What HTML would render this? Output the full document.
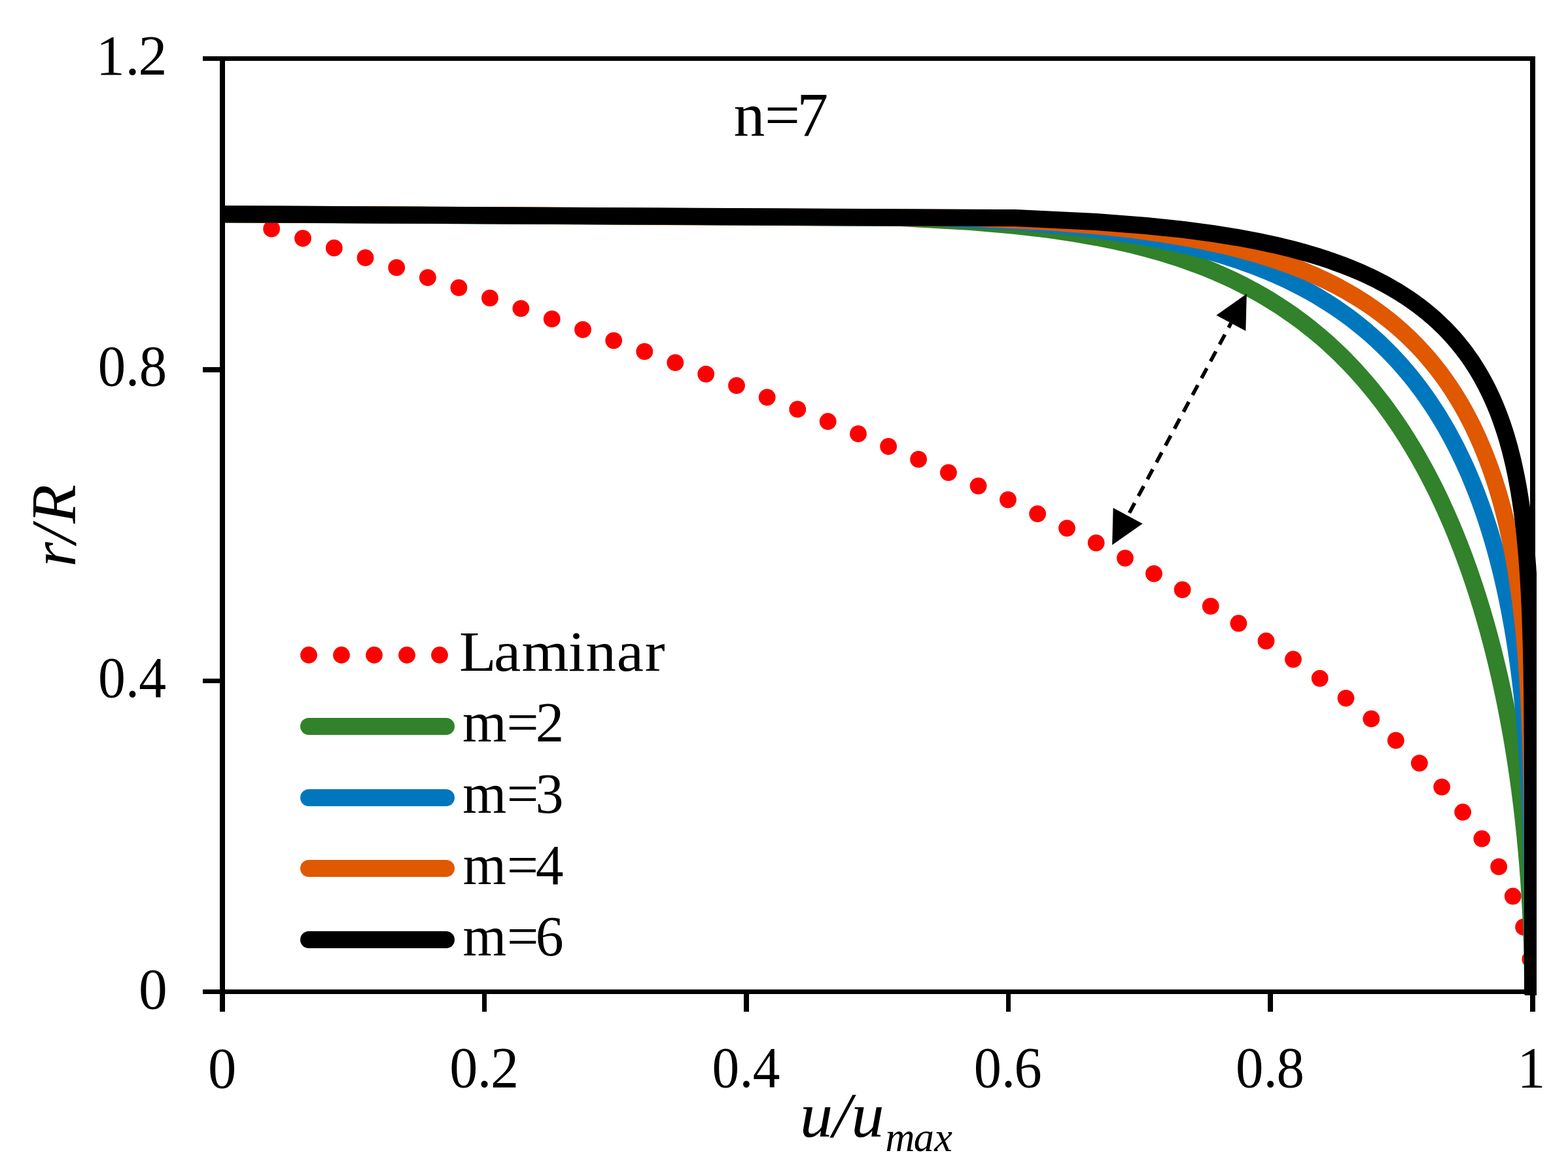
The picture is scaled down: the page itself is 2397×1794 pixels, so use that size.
<!DOCTYPE html>
<html><head><meta charset="utf-8"><title>Velocity profiles</title>
<style>
html,body{margin:0;padding:0;background:#fff;}
body{width:2397px;height:1794px;overflow:hidden;}
svg{display:block;}
text{font-family:"Liberation Serif",serif;fill:#000;font-kerning:none;}
.it{font-style:italic;}
</style></head>
<body>
<svg width="2397" height="1794" viewBox="0 0 2397 1794">
<rect width="2397" height="1794" fill="#fff"/>
<defs><clipPath id="plot"><rect x="336" y="84" width="2013" height="1437"/></clipPath></defs>
<g clip-path="url(#plot)">
<path d="M2343 1515.5 L2342.8 1503.62 L2342.2 1491.73 L2341.2 1479.85 L2339.8 1467.97 L2337.99 1456.08 L2335.79 1444.2 L2333.19 1432.32 L2330.18 1420.43 L2326.78 1408.55 L2322.97 1396.67 L2318.76 1384.78 L2314.16 1372.9 L2309.15 1361.02 L2303.74 1349.13 L2297.93 1337.25 L2291.72 1325.37 L2285.11 1313.48 L2278.1 1301.6 L2270.69 1289.72 L2262.88 1277.83 L2254.67 1265.95 L2246.05 1254.07 L2237.04 1242.18 L2227.63 1230.3 L2217.81 1218.42 L2207.6 1206.53 L2196.98 1194.65 L2185.96 1182.77 L2174.55 1170.88 L2162.73 1159 L2150.51 1147.12 L2137.89 1135.23 L2124.87 1123.35 L2111.45 1111.47 L2097.63 1099.58 L2083.41 1087.7 L2068.79 1075.82 L2053.77 1063.93 L2038.34 1052.05 L2022.52 1040.17 L2006.3 1028.28 L1989.67 1016.4 L1972.65 1004.52 L1955.22 992.63 L1937.39 980.75 L1919.17 968.87 L1900.54 956.98 L1881.51 945.1 L1862.08 933.22 L1842.25 921.34 L1822.02 909.45 L1801.39 897.57 L1780.36 885.69 L1758.93 873.8 L1737.09 861.92 L1714.86 850.04 L1692.23 838.15 L1669.19 826.27 L1645.76 814.39 L1621.92 802.5 L1597.68 790.62 L1573.05 778.74 L1548.01 766.85 L1522.57 754.97 L1496.73 743.09 L1470.49 731.2 L1443.85 719.32 L1416.81 707.44 L1389.37 695.55 L1361.53 683.67 L1333.29 671.79 L1304.64 659.9 L1275.6 648.02 L1246.16 636.14 L1216.31 624.25 L1186.07 612.37 L1155.42 600.49 L1124.37 588.6 L1092.93 576.72 L1061.08 564.84 L1028.83 552.95 L996.18 541.07 L963.13 529.19 L929.68 517.3 L895.83 505.42 L861.58 493.54 L826.93 481.65 L791.88 469.77 L756.42 457.89 L720.57 446 L684.32 434.12 L647.66 422.24 L610.61 410.35 L573.15 398.47 L535.29 386.59 L497.04 374.7 L458.38 362.82 L419.32 350.94 L379.86 339.05" stroke="#ff0000" stroke-width="25.8" stroke-linecap="round" stroke-linejoin="round" stroke-dasharray="0 50.02" fill="none"/>
<path d="M2343 1515.5 L2342.99 1509.56 L2342.97 1503.62 L2342.94 1497.68 L2342.89 1491.73 L2342.82 1485.79 L2342.74 1479.85 L2342.65 1473.91 L2342.54 1467.97 L2342.42 1462.03 L2342.28 1456.08 L2342.13 1450.14 L2341.97 1444.2 L2341.79 1438.26 L2341.59 1432.32 L2341.39 1426.38 L2341.16 1420.43 L2340.93 1414.49 L2340.67 1408.55 L2340.41 1402.61 L2340.13 1396.67 L2339.83 1390.73 L2339.52 1384.78 L2339.19 1378.84 L2338.85 1372.9 L2338.5 1366.96 L2338.13 1361.02 L2337.74 1355.08 L2337.34 1349.13 L2336.93 1343.19 L2336.5 1337.25 L2336.05 1331.31 L2335.59 1325.37 L2335.12 1319.43 L2334.63 1313.48 L2334.12 1307.54 L2333.6 1301.6 L2333.06 1295.66 L2332.51 1289.72 L2331.94 1283.78 L2331.35 1277.83 L2330.75 1271.89 L2330.14 1265.95 L2329.5 1260.01 L2328.85 1254.07 L2328.19 1248.13 L2327.51 1242.18 L2326.81 1236.24 L2326.1 1230.3 L2325.37 1224.36 L2324.62 1218.42 L2323.85 1212.48 L2323.07 1206.53 L2322.27 1200.59 L2321.46 1194.65 L2320.62 1188.71 L2319.77 1182.77 L2318.91 1176.83 L2318.02 1170.88 L2317.12 1164.94 L2316.19 1159 L2315.25 1153.06 L2314.3 1147.12 L2313.32 1141.18 L2312.33 1135.23 L2311.31 1129.29 L2310.28 1123.35 L2309.23 1117.41 L2308.16 1111.47 L2307.06 1105.53 L2305.95 1099.58 L2304.82 1093.64 L2303.67 1087.7 L2302.5 1081.76 L2301.31 1075.82 L2300.1 1069.88 L2298.87 1063.93 L2297.62 1057.99 L2296.34 1052.05 L2295.04 1046.11 L2293.73 1040.17 L2292.39 1034.23 L2291.02 1028.28 L2289.64 1022.34 L2288.23 1016.4 L2286.8 1010.46 L2285.35 1004.52 L2283.87 998.58 L2282.37 992.63 L2280.84 986.69 L2279.29 980.75 L2277.71 974.81 L2276.11 968.87 L2274.49 962.93 L2272.83 956.98 L2271.15 951.04 L2269.45 945.1 L2267.72 939.16 L2265.96 933.22 L2264.17 927.28 L2262.35 921.34 L2260.51 915.39 L2258.63 909.45 L2256.73 903.51 L2254.79 897.57 L2252.83 891.63 L2250.83 885.69 L2248.8 879.74 L2246.74 873.8 L2244.65 867.86 L2242.52 861.92 L2240.36 855.98 L2238.17 850.04 L2235.94 844.09 L2233.67 838.15 L2231.37 832.21 L2229.03 826.27 L2226.65 820.33 L2224.24 814.39 L2221.78 808.44 L2219.28 802.5 L2216.75 796.56 L2214.17 790.62 L2211.54 784.68 L2208.88 778.74 L2206.17 772.79 L2203.41 766.85 L2200.6 760.91 L2197.75 754.97 L2194.85 749.03 L2191.9 743.09 L2188.89 737.14 L2185.84 731.2 L2182.73 725.26 L2179.56 719.32 L2176.34 713.38 L2173.05 707.44 L2169.71 701.49 L2166.31 695.55 L2162.84 689.61 L2159.3 683.67 L2155.7 677.73 L2152.03 671.79 L2148.29 665.84 L2144.47 659.9 L2140.58 653.96 L2136.61 648.02 L2132.56 642.08 L2128.42 636.14 L2124.2 630.19 L2119.89 624.25 L2115.48 618.31 L2110.98 612.37 L2106.37 606.43 L2101.67 600.49 L2096.85 594.54 L2091.93 588.6 L2086.88 582.66 L2081.71 576.72 L2076.42 570.78 L2070.99 564.84 L2065.43 558.89 L2059.72 552.95 L2053.85 547.01 L2047.83 541.07 L2041.64 535.13 L2035.27 529.19 L2028.71 523.24 L2021.96 517.3 L2015 511.36 L2007.81 505.42 L2000.39 499.48 L1992.73 493.54 L1984.79 487.59 L1976.58 481.65 L1968.05 475.71 L1959.2 469.77 L1950 463.83 L1940.41 457.89 L1930.41 451.94 L1919.96 446 L1909.01 440.06 L1897.52 434.12 L1885.43 428.18 L1872.68 422.24 L1859.18 416.29 L1844.83 410.35 L1829.54 404.41 L1813.15 398.47 L1795.48 392.53 L1776.33 386.59 L1755.39 380.64 L1732.28 374.7 L1706.47 368.76 L1677.19 362.82 L1643.28 356.88 L1602.85 350.94 L1552.44 344.99 L1484.62 339.05 L1377.08 333.11 L340 327.17" stroke="#31822a" stroke-width="26" stroke-linecap="round" stroke-linejoin="round" fill="none"/>
<path d="M2343 1515.5 L2343 1509.56 L2343 1503.62 L2343 1497.68 L2343 1491.73 L2343 1485.79 L2342.99 1479.85 L2342.99 1473.91 L2342.98 1467.97 L2342.97 1462.03 L2342.96 1456.08 L2342.95 1450.14 L2342.94 1444.2 L2342.92 1438.26 L2342.9 1432.32 L2342.88 1426.38 L2342.85 1420.43 L2342.82 1414.49 L2342.79 1408.55 L2342.75 1402.61 L2342.71 1396.67 L2342.67 1390.73 L2342.62 1384.78 L2342.56 1378.84 L2342.51 1372.9 L2342.44 1366.96 L2342.37 1361.02 L2342.3 1355.08 L2342.21 1349.13 L2342.13 1343.19 L2342.03 1337.25 L2341.93 1331.31 L2341.83 1325.37 L2341.71 1319.43 L2341.59 1313.48 L2341.46 1307.54 L2341.33 1301.6 L2341.18 1295.66 L2341.03 1289.72 L2340.87 1283.78 L2340.7 1277.83 L2340.53 1271.89 L2340.34 1265.95 L2340.14 1260.01 L2339.94 1254.07 L2339.72 1248.13 L2339.5 1242.18 L2339.27 1236.24 L2339.02 1230.3 L2338.77 1224.36 L2338.5 1218.42 L2338.22 1212.48 L2337.93 1206.53 L2337.63 1200.59 L2337.32 1194.65 L2337 1188.71 L2336.66 1182.77 L2336.31 1176.83 L2335.95 1170.88 L2335.57 1164.94 L2335.18 1159 L2334.78 1153.06 L2334.36 1147.12 L2333.93 1141.18 L2333.49 1135.23 L2333.03 1129.29 L2332.55 1123.35 L2332.06 1117.41 L2331.56 1111.47 L2331.04 1105.53 L2330.5 1099.58 L2329.95 1093.64 L2329.37 1087.7 L2328.79 1081.76 L2328.18 1075.82 L2327.56 1069.88 L2326.92 1063.93 L2326.26 1057.99 L2325.58 1052.05 L2324.88 1046.11 L2324.16 1040.17 L2323.43 1034.23 L2322.67 1028.28 L2321.89 1022.34 L2321.09 1016.4 L2320.28 1010.46 L2319.43 1004.52 L2318.57 998.58 L2317.69 992.63 L2316.78 986.69 L2315.85 980.75 L2314.89 974.81 L2313.91 968.87 L2312.91 962.93 L2311.88 956.98 L2310.82 951.04 L2309.74 945.1 L2308.64 939.16 L2307.5 933.22 L2306.34 927.28 L2305.15 921.34 L2303.94 915.39 L2302.69 909.45 L2301.41 903.51 L2300.11 897.57 L2298.77 891.63 L2297.4 885.69 L2296 879.74 L2294.57 873.8 L2293.1 867.86 L2291.6 861.92 L2290.07 855.98 L2288.5 850.04 L2286.89 844.09 L2285.25 838.15 L2283.56 832.21 L2281.85 826.27 L2280.09 820.33 L2278.29 814.39 L2276.45 808.44 L2274.56 802.5 L2272.64 796.56 L2270.67 790.62 L2268.66 784.68 L2266.6 778.74 L2264.49 772.79 L2262.33 766.85 L2260.13 760.91 L2257.87 754.97 L2255.57 749.03 L2253.2 743.09 L2250.79 737.14 L2248.32 731.2 L2245.79 725.26 L2243.2 719.32 L2240.55 713.38 L2237.84 707.44 L2235.06 701.49 L2232.22 695.55 L2229.31 689.61 L2226.34 683.67 L2223.28 677.73 L2220.16 671.79 L2216.96 665.84 L2213.68 659.9 L2210.31 653.96 L2206.87 648.02 L2203.34 642.08 L2199.71 636.14 L2196 630.19 L2192.18 624.25 L2188.27 618.31 L2184.26 612.37 L2180.13 606.43 L2175.9 600.49 L2171.55 594.54 L2167.08 588.6 L2162.48 582.66 L2157.75 576.72 L2152.89 570.78 L2147.88 564.84 L2142.72 558.89 L2137.41 552.95 L2131.93 547.01 L2126.29 541.07 L2120.46 535.13 L2114.44 529.19 L2108.22 523.24 L2101.79 517.3 L2095.13 511.36 L2088.24 505.42 L2081.1 499.48 L2073.69 493.54 L2066 487.59 L2058 481.65 L2049.67 475.71 L2040.99 469.77 L2031.94 463.83 L2022.47 457.89 L2012.56 451.94 L2002.17 446 L1991.26 440.06 L1979.76 434.12 L1967.62 428.18 L1954.77 422.24 L1941.12 416.29 L1926.58 410.35 L1911.02 404.41 L1894.29 398.47 L1876.21 392.53 L1856.53 386.59 L1834.96 380.64 L1811.08 374.7 L1784.33 368.76 L1753.89 362.82 L1718.54 356.88 L1676.25 350.94 L1623.36 344.99 L1552.01 339.05 L1438.53 333.11 L340 327.17" stroke="#0077bd" stroke-width="26" stroke-linecap="round" stroke-linejoin="round" fill="none"/>
<path d="M2343 1515.5 L2343 1509.56 L2343 1503.62 L2343 1497.68 L2343 1491.73 L2343 1485.79 L2343 1479.85 L2343 1473.91 L2343 1467.97 L2343 1462.03 L2343 1456.08 L2343 1450.14 L2343 1444.2 L2342.99 1438.26 L2342.99 1432.32 L2342.99 1426.38 L2342.99 1420.43 L2342.99 1414.49 L2342.98 1408.55 L2342.98 1402.61 L2342.97 1396.67 L2342.97 1390.73 L2342.96 1384.78 L2342.95 1378.84 L2342.94 1372.9 L2342.93 1366.96 L2342.92 1361.02 L2342.9 1355.08 L2342.89 1349.13 L2342.87 1343.19 L2342.86 1337.25 L2342.83 1331.31 L2342.81 1325.37 L2342.79 1319.43 L2342.76 1313.48 L2342.73 1307.54 L2342.7 1301.6 L2342.66 1295.66 L2342.63 1289.72 L2342.59 1283.78 L2342.54 1277.83 L2342.49 1271.89 L2342.44 1265.95 L2342.39 1260.01 L2342.33 1254.07 L2342.27 1248.13 L2342.2 1242.18 L2342.13 1236.24 L2342.05 1230.3 L2341.97 1224.36 L2341.88 1218.42 L2341.79 1212.48 L2341.69 1206.53 L2341.59 1200.59 L2341.48 1194.65 L2341.36 1188.71 L2341.24 1182.77 L2341.11 1176.83 L2340.97 1170.88 L2340.83 1164.94 L2340.67 1159 L2340.51 1153.06 L2340.35 1147.12 L2340.17 1141.18 L2339.99 1135.23 L2339.79 1129.29 L2339.59 1123.35 L2339.38 1117.41 L2339.15 1111.47 L2338.92 1105.53 L2338.68 1099.58 L2338.42 1093.64 L2338.16 1087.7 L2337.88 1081.76 L2337.59 1075.82 L2337.29 1069.88 L2336.98 1063.93 L2336.65 1057.99 L2336.31 1052.05 L2335.96 1046.11 L2335.59 1040.17 L2335.21 1034.23 L2334.81 1028.28 L2334.4 1022.34 L2333.98 1016.4 L2333.53 1010.46 L2333.07 1004.52 L2332.59 998.58 L2332.1 992.63 L2331.59 986.69 L2331.05 980.75 L2330.5 974.81 L2329.94 968.87 L2329.35 962.93 L2328.74 956.98 L2328.11 951.04 L2327.45 945.1 L2326.78 939.16 L2326.08 933.22 L2325.36 927.28 L2324.62 921.34 L2323.85 915.39 L2323.06 909.45 L2322.24 903.51 L2321.39 897.57 L2320.52 891.63 L2319.62 885.69 L2318.69 879.74 L2317.73 873.8 L2316.75 867.86 L2315.73 861.92 L2314.68 855.98 L2313.6 850.04 L2312.48 844.09 L2311.33 838.15 L2310.15 832.21 L2308.93 826.27 L2307.67 820.33 L2306.38 814.39 L2305.05 808.44 L2303.67 802.5 L2302.26 796.56 L2300.81 790.62 L2299.31 784.68 L2297.77 778.74 L2296.18 772.79 L2294.55 766.85 L2292.86 760.91 L2291.13 754.97 L2289.35 749.03 L2287.52 743.09 L2285.63 737.14 L2283.69 731.2 L2281.69 725.26 L2279.63 719.32 L2277.51 713.38 L2275.33 707.44 L2273.09 701.49 L2270.78 695.55 L2268.4 689.61 L2265.96 683.67 L2263.43 677.73 L2260.84 671.79 L2258.17 665.84 L2255.41 659.9 L2252.58 653.96 L2249.66 648.02 L2246.65 642.08 L2243.55 636.14 L2240.35 630.19 L2237.06 624.25 L2233.66 618.31 L2230.16 612.37 L2226.54 606.43 L2222.82 600.49 L2218.97 594.54 L2215 588.6 L2210.89 582.66 L2206.66 576.72 L2202.28 570.78 L2197.75 564.84 L2193.07 558.89 L2188.23 552.95 L2183.21 547.01 L2178.02 541.07 L2172.64 535.13 L2167.06 529.19 L2161.27 523.24 L2155.27 517.3 L2149.02 511.36 L2142.54 505.42 L2135.79 499.48 L2128.76 493.54 L2121.43 487.59 L2113.78 481.65 L2105.79 475.71 L2097.44 469.77 L2088.69 463.83 L2079.51 457.89 L2069.86 451.94 L2059.72 446 L2049.02 440.06 L2037.71 434.12 L2025.73 428.18 L2013.01 422.24 L1999.45 416.29 L1984.95 410.35 L1969.39 404.41 L1952.61 398.47 L1934.41 392.53 L1914.55 386.59 L1892.7 380.64 L1868.44 374.7 L1841.18 368.76 L1810.07 362.82 L1773.81 356.88 L1730.32 350.94 L1675.78 344.99 L1601.95 339.05 L1484.21 333.11 L340 327.17" stroke="#e05800" stroke-width="26" stroke-linecap="round" stroke-linejoin="round" fill="none"/>
<path d="M2343 1515.5 L2343 1509.56 L2343 1503.62 L2343 1497.68 L2343 1491.73 L2343 1485.79 L2343 1479.85 L2343 1473.91 L2343 1467.97 L2343 1462.03 L2343 1456.08 L2343 1450.14 L2343 1444.2 L2343 1438.26 L2343 1432.32 L2343 1426.38 L2343 1420.43 L2343 1414.49 L2343 1408.55 L2343 1402.61 L2343 1396.67 L2343 1390.73 L2343 1384.78 L2343 1378.84 L2343 1372.9 L2343 1366.96 L2343 1361.02 L2343 1355.08 L2343 1349.13 L2343 1343.19 L2343 1337.25 L2343 1331.31 L2343 1325.37 L2342.99 1319.43 L2342.99 1313.48 L2342.99 1307.54 L2342.99 1301.6 L2342.99 1295.66 L2342.99 1289.72 L2342.98 1283.78 L2342.98 1277.83 L2342.98 1271.89 L2342.98 1265.95 L2342.97 1260.01 L2342.97 1254.07 L2342.96 1248.13 L2342.96 1242.18 L2342.95 1236.24 L2342.95 1230.3 L2342.94 1224.36 L2342.93 1218.42 L2342.92 1212.48 L2342.91 1206.53 L2342.9 1200.59 L2342.89 1194.65 L2342.88 1188.71 L2342.86 1182.77 L2342.85 1176.83 L2342.83 1170.88 L2342.81 1164.94 L2342.79 1159 L2342.77 1153.06 L2342.75 1147.12 L2342.72 1141.18 L2342.69 1135.23 L2342.66 1129.29 L2342.63 1123.35 L2342.6 1117.41 L2342.56 1111.47 L2342.52 1105.53 L2342.47 1099.58 L2342.43 1093.64 L2342.38 1087.7 L2342.32 1081.76 L2342.27 1075.82 L2342.2 1069.88 L2342.14 1063.93 L2342.07 1057.99 L2341.99 1052.05 L2341.91 1046.11 L2341.83 1040.17 L2341.73 1034.23 L2341.64 1028.28 L2341.54 1022.34 L2341.43 1016.4 L2341.31 1010.46 L2341.19 1004.52 L2341.06 998.58 L2340.92 992.63 L2340.77 986.69 L2340.62 980.75 L2340.45 974.81 L2340.28 968.87 L2340.09 962.93 L2339.9 956.98 L2339.7 951.04 L2339.48 945.1 L2339.25 939.16 L2339.02 933.22 L2338.76 927.28 L2338.5 921.34 L2338.22 915.39 L2337.93 909.45 L2337.62 903.51 L2337.29 897.57 L2336.95 891.63 L2336.6 885.69 L2336.22 879.74 L2335.83 873.8 L2335.42 867.86 L2334.98 861.92 L2334.53 855.98 L2334.06 850.04 L2333.56 844.09 L2333.04 838.15 L2332.49 832.21 L2331.92 826.27 L2331.33 820.33 L2330.71 814.39 L2330.06 808.44 L2329.37 802.5 L2328.66 796.56 L2327.92 790.62 L2327.15 784.68 L2326.34 778.74 L2325.49 772.79 L2324.61 766.85 L2323.69 760.91 L2322.73 754.97 L2321.73 749.03 L2320.69 743.09 L2319.6 737.14 L2318.47 731.2 L2317.28 725.26 L2316.05 719.32 L2314.77 713.38 L2313.43 707.44 L2312.04 701.49 L2310.59 695.55 L2309.08 689.61 L2307.5 683.67 L2305.86 677.73 L2304.16 671.79 L2302.38 665.84 L2300.53 659.9 L2298.6 653.96 L2296.59 648.02 L2294.5 642.08 L2292.33 636.14 L2290.06 630.19 L2287.7 624.25 L2285.24 618.31 L2282.68 612.37 L2280.01 606.43 L2277.22 600.49 L2274.33 594.54 L2271.31 588.6 L2268.16 582.66 L2264.87 576.72 L2261.45 570.78 L2257.87 564.84 L2254.14 558.89 L2250.25 552.95 L2246.18 547.01 L2241.94 541.07 L2237.5 535.13 L2232.85 529.19 L2228 523.24 L2222.91 517.3 L2217.59 511.36 L2212.01 505.42 L2206.15 499.48 L2200.01 493.54 L2193.55 487.59 L2186.76 481.65 L2179.61 475.71 L2172.08 469.77 L2164.13 463.83 L2155.73 457.89 L2146.83 451.94 L2137.41 446 L2127.4 440.06 L2116.75 434.12 L2105.38 428.18 L2093.23 422.24 L2080.19 416.29 L2066.15 410.35 L2050.98 404.41 L2034.51 398.47 L2016.53 392.53 L1996.78 386.59 L1974.92 380.64 L1950.49 374.7 L1922.87 368.76 L1891.14 362.82 L1853.95 356.88 L1809.06 350.94 L1752.42 344.99 L1675.31 339.05 L1551.58 333.11 L340 327.17" stroke="#000" stroke-width="26" stroke-linecap="round" stroke-linejoin="round" fill="none"/>
</g>
<g fill="#000">
<rect x="310" y="86" width="2037" height="7"/>
<rect x="336" y="86" width="8" height="1460"/>
<rect x="2339" y="86" width="8" height="1460"/>
<rect x="310" y="1512" width="2037" height="7"/>
<rect x="310" y="561" width="26" height="8"/>
<rect x="310" y="1037" width="26" height="7"/>
<rect x="737" y="1519" width="7" height="27"/>
<rect x="1137" y="1519" width="8" height="27"/>
<rect x="1538" y="1519" width="7" height="27"/>
<rect x="1938" y="1519" width="8" height="27"/>
</g>
<g fill="#000">
<line x1="1724.14" y1="788.11" x2="1881.86" y2="493.69" stroke="#000" stroke-width="5.6" stroke-dasharray="17.2 12" stroke-dashoffset="24.3"/><polygon points="1905.8,449 1904.34,505.73 1859.38,481.65"/><polygon points="1700.2,832.8 1746.62,800.15 1701.66,776.07"/>
</g>
<path d="M472 1001 H682" stroke="#ff0000" stroke-width="25.8" stroke-linecap="round" stroke-dasharray="0 50" fill="none"/>
<path d="M472 1110 H682" stroke="#31822a" stroke-width="26" stroke-linecap="round" fill="none"/>
<path d="M472 1219 H682" stroke="#0077bd" stroke-width="26" stroke-linecap="round" fill="none"/>
<path d="M472 1327 H682" stroke="#e05800" stroke-width="26" stroke-linecap="round" fill="none"/>
<path d="M472 1436 H682" stroke="#000" stroke-width="26" stroke-linecap="round" fill="none"/>
<text font-size="87.45" transform="translate(146.97 113.8) scale(1.0052 1)" x="-0.32 44.26 64.16">1.2</text>
<text font-size="87.9" transform="translate(149.37 589.36) scale(0.9653 1)" x="0.33 44.05 65.59">0.8</text>
<text font-size="88.34" transform="translate(149.71 1064.65) scale(0.9472 1)" x="0.39 44.63 66.15">0.4</text>
<text font-size="89.36" transform="translate(212.07 1541.33) scale(0.9796 1)">0</text>
<text font-size="88.62" transform="translate(318.09 1661.83) scale(0.9798 1)">0</text>
<text font-size="88.04" transform="translate(687.22 1661.45) scale(0.9789 1)" x="0.04 43.42 64.22">0.2</text>
<text font-size="88.04" transform="translate(1087.83 1661.45) scale(0.9466 1)" x="0.67 45.17 66.37">0.4</text>
<text font-size="88.04" transform="translate(1488.29 1661.45) scale(0.9579 1)" x="0.45 44.54 64.96">0.6</text>
<text font-size="88.04" transform="translate(1888.77 1661.45) scale(0.9647 1)" x="0.31 44.18 64.94">0.8</text>
<text font-size="88.01" transform="translate(2319.46 1660.9) scale(0.9747 1)">1</text>
<text font-size="95.76" transform="translate(1117.7 207.7) scale(1.0007 1)" x="3.92 51.2 100.55">n=7</text>
<text font-size="87.75" transform="translate(703.43 1025.3) scale(1.0564 1)" x="-1.41 48.71 88.95 156.53 181.78 226.58 267.15">Laminar</text>
<text font-size="87.3" transform="translate(704.17 1132.8) scale(0.9959 1)" x="2.79 70.71 115.05">m=2</text>
<text font-size="87.3" transform="translate(704.19 1241.8) scale(0.9869 1)" x="3.11 71.56 115.86">m=3</text>
<text font-size="87.81" transform="translate(704.21 1350.8) scale(0.9683 1)" x="3.6 73.24 118.51">m=4</text>
<text font-size="87.3" transform="translate(704.2 1459.7) scale(0.9818 1)" x="3.3 72.05 116.79">m=6</text>
<text class="it" font-size="96.52" transform="translate(1222.78 1737.2) scale(1.0449 1)" x="0.02 48.13 75.05">u/u</text>
<text class="it" font-size="63.03" transform="translate(1352.45 1758.7) scale(0.9876 1)" x="1.02 44.84 76.75">max</text>
<text class="it" font-size="96.98" transform="translate(115.2 862) rotate(-90) translate(-3.95 0) scale(1.0052 1)" x="-0.38 35.4 65.66">r/R</text>
</svg>
</body></html>
